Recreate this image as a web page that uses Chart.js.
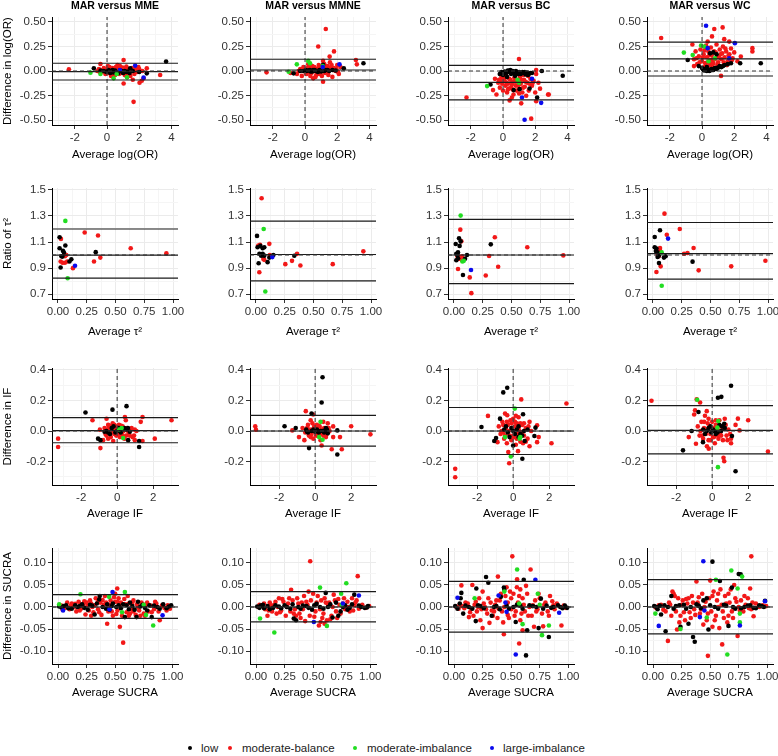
<!DOCTYPE html>
<html>
<head>
<meta charset="utf-8">
<title>MAR versus other methods</title>
<script src="https://cdn.jsdelivr.net/npm/chart.js@4.4.0/dist/chart.umd.min.js"></script>
<style>
  body { margin: 0; width: 778px; height: 756px; overflow: hidden; position: relative; background: #fff;
         font-family: "Liberation Sans", Arial, sans-serif; }
  canvas { position: absolute; }
  .lg-dot { position: absolute; width: 4px; height: 4px; border-radius: 50%; top: 746px; }
  .lg-txt { position: absolute; top: 741px; font-size: 11.5px; line-height: 14px; color: #222; white-space: nowrap; }
</style>
</head>
<body>
<div id="legend"></div>
<script>
// ---- labels ----
const comparisons = ['MME', 'MMNE', 'BC', 'WC'];
const groups = ['low', 'moderate-balance', 'moderate-imbalance', 'large-imbalance'];
const groupColors = ['#000000', '#f21818', '#22dd22', '#0a0aee'];

// ---- tick labels ----
const xTicks_logOR = [-2, 0, 2, 4];
const yTicks_logOR = [-0.5, -0.25, 0, 0.25, 0.5];
const xTicks_tau2 = [0, 0.25, 0.5, 0.75, 1];
const yTicks_tau2 = [0.7, 0.9, 1.1, 1.3, 1.5];
const xTicks_IF = [-2, 0, 2];
const yTicks_IF = [-0.2, 0, 0.2, 0.4];
const xTicks_SUCRA = [0, 0.25, 0.5, 0.75, 1];
const yTicks_SUCRA = [-0.1, -0.05, 0, 0.05, 0.1];

// ---- limits of agreement: [upper, mean, lower] per comparison ----
const limits_logOR = [[0.079, -0.007, -0.092], [0.12, 0.01, -0.092], [0.058, -0.116, -0.295], [0.295, 0.123, -0.051]];
const limits_tau2 = [[1.2, 0.999, 0.822], [1.26, 1.004, 0.802], [1.274, 1.0, 0.78], [1.25, 1.01, 0.815]];
const limits_IF = [[0.088, 0.003, -0.077], [0.103, 0.0, -0.099], [0.154, 0.0, -0.154], [0.167, 0.004, -0.15]];
const limits_SUCRA = [[0.028, 0, -0.026], [0.035, 0, -0.034], [0.058, 0, -0.057], [0.062, 0, -0.061]];

// ---- log(OR) ----
const logOR_MME_low = [[-0.82,0.027],[-0.2,0.0],[-0.05,-0.01],[0.1,0.01],[0.3,0.0],[0.4,-0.015],[0.5,0.005],[0.7,-0.02],[0.9,0.0],[1.2,-0.01],[1.44,0.027],[1.4,-0.02],[2.47,-0.024],[3.67,0.096],[0.6,-0.02],[0.2,-0.02],[1.0,-0.02],[-0.4,0.005],[0.0,-0.005],[0.15,0.0],[0.35,0.01],[0.55,-0.01],[0.8,0.005],[1.1,0.0],[1.3,-0.005],[1.6,0.0],[2.0,-0.01]];
const logOR_MME_modBal = [[-2.37,0.017],[-0.5,0.02],[-0.41,0.072],[-0.3,-0.01],[-0.2,0.03],[-0.1,-0.03],[0.0,0.02],[0.1,-0.02],[0.15,0.04],[0.2,0.0],[0.3,-0.03],[0.35,0.03],[0.45,0.01],[0.5,-0.04],[0.55,0.04],[0.6,-0.01],[0.7,0.02],[0.75,-0.03],[0.8,0.05],[0.85,0.0],[0.9,-0.02],[1.0,0.03],[1.03,0.113],[1.03,-0.127],[1.1,-0.04],[1.15,0.01],[1.2,0.045],[1.3,-0.02],[1.35,0.02],[1.45,-0.05],[1.5,0.0],[1.6,-0.09],[1.65,0.02],[1.65,-0.315],[1.7,-0.03],[1.8,0.03],[1.9,-0.01],[2.0,0.02],[2.02,-0.12],[2.16,-0.1],[2.27,-0.075],[2.2,0.0],[2.47,0.027],[3.3,-0.041],[0.25,-0.05],[0.65,0.06],[1.25,-0.06],[-0.6,0.0],[0.05,0.05],[0.95,0.035],[-0.45,-0.01],[-0.25,0.01],[-0.05,0.0],[0.08,0.01],[0.18,-0.01],[0.28,0.015],[0.38,-0.02],[0.48,0.02],[0.58,0.0],[0.68,-0.01],[0.78,0.01],[0.88,0.02],[0.98,-0.01],[1.08,0.02],[1.18,-0.02],[1.28,0.01],[1.38,-0.03],[1.55,0.03],[1.75,0.0],[1.95,0.04]];
const logOR_MME_modImb = [[-1.03,-0.017],[-0.41,-0.03],[0.41,-0.075],[1.24,-0.065],[0.6,-0.03]];
const logOR_MME_large = [[1.75,0.055],[2.27,-0.068],[0.8,0.01]];

const logOR_MMNE_low = [[-0.71,-0.024],[-0.1,0.0],[0.05,0.01],[0.2,0.005],[0.35,-0.005],[0.5,0.01],[0.65,0.0],[0.8,-0.01],[0.95,0.005],[1.12,0.062],[1.3,0.01],[1.5,0.0],[1.7,0.01],[2.41,0.027],[3.63,0.079],[1.0,-0.005],[-0.3,0.0],[0.1,0.0],[0.3,0.01],[0.45,-0.005],[0.6,0.01],[0.75,0.0],[0.9,0.01],[1.2,0.0],[1.4,0.01],[1.9,0.005]];
const logOR_MMNE_modBal = [[-2.39,-0.014],[-0.9,-0.02],[-0.5,-0.03],[-0.3,0.02],[-0.2,-0.05],[0.0,0.01],[0.1,-0.03],[0.15,0.03],[0.25,0.0],[0.3,0.04],[0.4,-0.02],[0.45,0.05],[0.51,-0.075],[0.55,0.01],[0.6,0.03],[0.7,-0.04],[0.75,0.02],[0.82,0.25],[0.85,0.06],[0.9,-0.03],[1.0,0.04],[1.05,-0.05],[1.12,0.103],[1.12,-0.11],[1.2,0.07],[1.25,-0.02],[1.29,0.428],[1.3,0.03],[1.4,0.05],[1.45,-0.04],[1.53,0.147],[1.55,0.09],[1.6,0.02],[1.7,-0.06],[1.8,0.2],[1.8,0.03],[1.9,0.0],[2.0,0.06],[2.1,-0.03],[2.2,0.04],[3.16,0.113],[3.22,0.068],[0.2,0.07],[0.65,-0.06],[1.15,0.0],[1.65,0.06],[0.95,0.02],[-0.1,0.04],[-0.4,0.0],[-0.15,0.02],[0.05,-0.02],[0.18,0.01],[0.28,-0.01],[0.38,0.02],[0.48,0.0],[0.58,0.04],[0.68,0.01],[0.78,-0.02],[0.88,0.03],[0.98,-0.01],[1.08,0.02],[1.18,0.04],[1.35,0.0],[1.5,0.03],[1.75,0.01],[1.95,0.02],[2.05,-0.01],[0.33,-0.05]];
const logOR_MMNE_modImb = [[-1.02,-0.007],[-0.51,0.068],[0.2,0.103],[0.31,0.079],[1.1,0.05]];
const logOR_MMNE_large = [[2.14,0.068],[1.1,0.04]];

const logOR_BC_low = [[-0.78,-0.137],[-0.2,-0.03],[-0.1,-0.01],[0.0,-0.04],[0.1,-0.005],[0.2,-0.02],[0.3,0.005],[0.4,-0.01],[0.45,0.01],[0.5,-0.03],[0.6,0.0],[0.7,-0.015],[0.8,0.0],[0.9,-0.02],[1.0,-0.01],[1.1,-0.03],[1.2,-0.01],[1.3,-0.02],[1.4,-0.035],[1.5,-0.015],[1.6,-0.03],[1.8,-0.02],[0.66,-0.195],[1.03,-0.185],[1.65,-0.178],[2.12,-0.27],[2.41,0.0],[3.71,-0.048],[0.25,-0.06],[0.75,-0.05],[0.05,-0.02],[0.15,-0.01],[0.35,-0.005],[0.55,-0.01],[0.65,-0.02],[0.85,-0.01],[0.95,-0.03],[1.15,-0.02],[1.35,-0.01],[1.55,-0.04],[1.7,-0.02]];
const logOR_BC_modBal = [[-2.27,-0.27],[-0.62,-0.195],[-0.5,-0.08],[-0.41,-0.24],[-0.3,-0.12],[-0.2,-0.17],[-0.1,-0.06],[0.0,-0.2],[0.1,-0.1],[0.15,-0.15],[0.2,-0.05],[0.25,-0.22],[0.3,-0.13],[0.41,-0.3],[0.45,-0.09],[0.5,-0.17],[0.6,-0.11],[0.65,-0.24],[0.7,-0.07],[0.8,-0.15],[0.85,-0.2],[0.9,-0.1],[0.99,0.123],[1.0,-0.18],[1.05,-0.06],[1.1,-0.13],[1.13,-0.33],[1.2,-0.22],[1.3,-0.09],[1.35,-0.16],[1.44,-0.253],[1.5,-0.12],[1.6,-0.2],[1.7,-0.08],[1.75,-0.486],[1.8,-0.15],[1.9,-0.1],[2.0,-0.22],[2.06,0.01],[2.06,-0.03],[2.06,-0.308],[2.2,-0.12],[2.3,-0.18],[2.8,-0.24],[2.84,-0.24],[0.55,-0.27],[1.25,-0.04],[-0.15,-0.1],[0.35,-0.18],[1.55,-0.05],[-0.25,-0.09],[-0.05,-0.13],[0.05,-0.07],[0.22,-0.12],[0.38,-0.08],[0.55,-0.14],[0.75,-0.11],[0.95,-0.14],[1.15,-0.09],[1.4,-0.11],[1.65,-0.13],[1.85,-0.12],[0.6,-0.19],[1.0,-0.23],[0.3,-0.19],[1.25,-0.17]];
const logOR_BC_modImb = [[-0.99,-0.154],[0.9,-0.09],[1.0,-0.12]];
const logOR_BC_large = [[1.18,-0.27],[1.34,-0.497],[2.37,-0.325],[1.8,-0.08]];

const logOR_WC_low = [[-0.89,0.113],[-0.2,0.05],[0.0,0.03],[0.1,0.01],[0.2,0.02],[0.3,0.0],[0.4,0.015],[0.5,0.005],[0.6,0.02],[0.7,0.01],[0.8,0.03],[0.9,0.02],[1.0,0.035],[1.1,0.05],[1.2,0.04],[1.4,0.06],[0.5,0.18],[0.7,0.19],[0.9,0.17],[1.8,0.079],[2.37,0.079],[3.65,0.079],[0.3,0.04],[1.6,0.07],[0.05,0.02],[0.15,0.005],[0.25,0.015],[0.35,0.01],[0.45,0.0],[0.55,0.015],[0.65,0.01],[0.75,0.02],[0.85,0.025],[0.95,0.03],[1.3,0.05]];
const logOR_WC_modBal = [[-2.54,0.336],[-0.6,0.27],[-0.5,0.12],[-0.4,0.2],[-0.3,0.07],[-0.2,0.15],[-0.1,0.22],[0.0,0.1],[0.1,0.17],[0.2,0.08],[0.25,0.26],[0.3,0.14],[0.4,0.2],[0.45,0.06],[0.5,0.11],[0.55,0.24],[0.62,0.353],[0.6,0.16],[0.7,0.08],[0.75,0.2],[0.76,0.428],[0.8,0.12],[0.9,0.27],[0.95,0.15],[1.0,0.09],[1.1,0.22],[1.15,0.17],[1.18,-0.05],[1.2,0.12],[1.28,0.445],[1.3,0.25],[1.38,0.325],[1.4,0.14],[1.5,0.2],[1.6,0.1],[1.69,0.3],[1.7,0.17],[1.8,0.23],[1.9,0.13],[2.0,0.19],[2.2,0.1],[2.41,0.147],[3.13,0.233],[3.13,0.2],[-0.5,0.05],[0.35,0.3],[0.65,0.05],[1.05,0.05],[1.55,0.06],[0.15,0.04],[-0.35,0.13],[-0.15,0.09],[0.05,0.14],[0.15,0.21],[0.35,0.09],[0.45,0.16],[0.65,0.12],[0.85,0.19],[1.05,0.14],[1.25,0.18],[1.45,0.23],[1.65,0.16],[1.85,0.11],[0.55,0.07],[0.95,0.06],[1.35,0.09]];
const logOR_WC_modImb = [[-1.13,0.188],[-0.58,0.164],[-0.06,0.26],[0.14,0.25],[0.4,0.1],[0.8,0.13]];
const logOR_WC_large = [[0.25,0.462],[0.35,0.233],[1.69,0.13],[2.04,0.284]];

// ---- ratio of tau^2 ----
const tau2_MME_low = [[0.014,1.137],[0.014,1.052],[0.064,1.073],[0.043,1.032],[0.052,1.019],[0.038,0.988],[0.023,0.904],[0.1,0.95],[0.116,0.968],[0.328,1.022],[0.03,0.99]];
const tau2_MME_modBal = [[0.026,1.124],[0.232,1.173],[0.348,1.15],[0.072,1.0],[0.023,0.95],[0.04,0.94],[0.06,0.94],[0.08,0.95],[0.13,0.899],[0.313,0.95],[0.368,0.98],[0.632,1.052],[0.942,1.014],[0.06,0.99]];
const tau2_MME_modImb = [[0.064,1.262],[0.084,0.822]];
const tau2_MME_large = [[0.148,0.917]];

const tau2_MMNE_low = [[0.009,1.147],[0.014,1.06],[0.038,1.07],[0.058,1.052],[0.072,1.06],[0.03,1.01],[0.045,0.995],[0.058,1.01],[0.072,0.995],[0.023,0.937],[0.101,0.945],[0.116,0.98],[0.151,1.0],[0.333,0.994]];
const tau2_MMNE_modBal = [[0.049,1.436],[0.02,1.073],[0.035,1.078],[0.116,1.086],[0.029,0.868],[0.064,0.97],[0.072,0.963],[0.255,0.93],[0.313,0.955],[0.357,1.009],[0.386,0.92],[0.667,0.93],[0.933,1.028],[0.12,1.0],[0.05,1.0]];
const tau2_MMNE_modImb = [[0.067,1.2],[0.081,0.72]];
const tau2_MMNE_large = [[0.142,0.984]];

const tau2_BC_low = [[0.015,1.085],[0.044,1.128],[0.058,1.105],[0.049,1.07],[0.02,1.01],[0.035,1.02],[0.02,0.96],[0.035,0.975],[0.078,0.846],[0.096,0.971],[0.113,1.0],[0.32,1.082],[0.03,1.0]];
const tau2_BC_modBal = [[0.055,1.195],[0.064,1.105],[0.03,0.99],[0.05,0.98],[0.07,0.99],[0.04,0.97],[0.035,0.893],[0.137,0.828],[0.151,0.707],[0.276,0.843],[0.305,0.992],[0.355,1.136],[0.384,0.91],[0.637,1.06],[0.95,0.997],[0.07,0.96]];
const tau2_BC_modImb = [[0.058,1.303],[0.073,0.95],[0.085,0.955]];
const tau2_BC_large = [[0.148,0.885]];

const tau2_WC_low = [[0.015,1.138],[0.061,1.19],[0.015,1.06],[0.03,1.05],[0.04,1.02],[0.05,0.995],[0.04,0.985],[0.052,0.938],[0.11,0.99],[0.095,0.98],[0.344,0.949],[0.025,1.03]];
const tau2_WC_modBal = [[0.1,1.318],[0.12,1.156],[0.233,1.2],[0.061,1.054],[0.061,1.036],[0.03,0.869],[0.067,0.913],[0.3,1.015],[0.27,1.01],[0.353,1.054],[0.397,0.882],[0.68,0.913],[0.977,0.956],[0.04,1.0],[0.05,0.99]];
const tau2_WC_modImb = [[0.076,1.02],[0.076,0.764]];
const tau2_WC_large = [[0.131,1.126]];

// ---- inconsistency factor ----
const IF_MME_low = [[-1.76,0.121],[-1.06,-0.05],[-0.93,-0.06],[-0.6,0.0],[-0.5,-0.01],[-0.26,0.14],[-0.2,0.03],[0.0,0.0],[0.2,-0.01],[0.4,0.02],[0.52,0.163],[0.5,0.01],[0.61,-0.06],[0.7,-0.005],[1.22,-0.105],[1.22,-0.066],[-0.4,-0.02],[-0.3,0.02],[-0.1,-0.01],[0.1,0.02],[0.3,0.01],[0.6,0.02],[-0.7,-0.005]];
const IF_MME_modBal = [[-3.28,-0.05],[-3.28,-0.105],[-1.37,0.07],[-0.96,0.009],[-0.93,-0.112],[-0.78,-0.06],[-0.7,0.02],[-0.6,-0.03],[-0.59,0.08],[-0.5,0.04],[-0.45,-0.01],[-0.4,0.03],[-0.35,-0.04],[-0.3,0.01],[-0.25,0.05],[-0.22,-0.066],[-0.15,-0.02],[-0.1,0.03],[-0.05,-0.03],[0.0,0.02],[0.05,-0.01],[0.1,0.04],[0.15,-0.04],[0.2,0.01],[0.25,-0.02],[0.3,0.03],[0.35,0.0],[0.43,0.092],[0.48,0.07],[0.5,-0.03],[0.55,0.02],[0.65,-0.02],[0.75,0.01],[0.85,-0.04],[0.94,-0.03],[0.98,-0.06],[0.98,0.009],[1.07,0.0],[1.31,0.06],[1.41,0.092],[1.41,-0.066],[2.09,-0.05],[3.02,0.07],[-0.5,-0.05],[0.4,-0.05],[-0.2,0.0],[0.15,0.015],[-0.55,0.01],[-0.45,0.03],[-0.35,0.02],[-0.25,-0.01],[-0.15,0.04],[-0.05,0.01],[0.05,0.03],[0.1,-0.02],[0.2,0.035],[0.3,-0.03],[0.4,0.01],[0.6,0.0],[0.7,-0.03],[0.8,0.02],[-0.65,-0.02]];
const IF_MME_modImb = [[0.33,-0.046],[0.1,0.01],[0.25,0.02]];
const IF_MME_large = [];

const IF_MMNE_low = [[-1.7,0.031],[-1.08,0.02],[-0.5,0.01],[-0.4,-0.01],[-0.34,-0.112],[-0.2,0.114],[-0.2,0.0],[0.0,-0.005],[0.1,0.01],[0.3,0.0],[0.36,0.187],[0.41,0.352],[0.5,-0.01],[0.6,0.02],[1.23,0.004],[1.23,-0.154],[0.55,0.005],[-0.45,-0.005],[-0.1,0.01],[0.2,-0.01],[0.4,0.0],[0.65,0.01],[0.7,-0.015]];
const IF_MMNE_modBal = [[-3.33,0.031],[-3.29,0.009],[-1.27,0.004],[-0.9,-0.04],[-0.7,0.02],[-0.6,-0.06],[-0.52,0.13],[-0.5,0.0],[-0.4,0.04],[-0.35,-0.03],[-0.3,0.01],[-0.2,-0.02],[-0.15,0.05],[-0.11,0.108],[-0.1,-0.05],[0.0,0.02],[0.05,-0.01],[0.1,0.04],[0.15,-0.03],[0.2,0.0],[0.25,0.03],[0.36,-0.095],[0.4,-0.02],[0.45,0.06],[0.5,0.02],[0.6,-0.04],[0.7,0.05],[0.8,0.0],[0.92,-0.12],[1.0,0.03],[1.0,-0.04],[1.38,-0.04],[1.48,-0.12],[2.0,0.031],[3.07,-0.022],[-0.25,0.07],[0.3,-0.06],[-0.55,-0.01],[-0.45,0.02],[-0.35,0.0],[-0.25,-0.04],[-0.15,0.01],[-0.05,0.03],[0.05,-0.03],[0.1,0.0],[0.2,0.03],[0.3,-0.02],[0.35,0.01],[0.45,-0.03],[0.55,0.0],[0.65,-0.02],[0.75,0.02]];
const IF_MMNE_modImb = [[0.3,0.06],[0.22,-0.04],[0.41,-0.057]];
const IF_MMNE_large = [];

const IF_BC_low = [[-1.76,0.026],[-1.05,-0.066],[-0.95,-0.046],[-0.73,0.081],[-0.55,0.253],[-0.33,0.284],[-0.5,0.01],[-0.3,-0.01],[-0.1,0.02],[0.0,-0.095],[0.0,0.0],[0.2,0.01],[0.4,-0.02],[0.51,-0.182],[0.55,0.11],[0.6,0.0],[0.64,-0.066],[1.18,-0.033],[1.24,0.022],[0.3,-0.04],[-0.4,0.03],[-0.2,-0.04],[0.1,-0.02],[0.3,0.03],[0.5,-0.03],[0.8,0.01]];
const IF_BC_modBal = [[-3.22,-0.248],[-3.22,-0.303],[-1.4,0.099],[-0.87,-0.073],[-0.8,0.03],[-0.7,-0.02],[-0.6,0.06],[-0.5,-0.05],[-0.45,0.114],[-0.4,0.02],[-0.35,-0.08],[-0.33,0.103],[-0.3,0.04],[-0.27,-0.138],[-0.22,-0.211],[-0.2,-0.03],[-0.15,0.07],[-0.1,-0.06],[-0.05,0.02],[0.0,0.08],[0.05,-0.04],[0.1,0.03],[0.15,-0.09],[0.2,0.05],[0.25,-0.02],[0.27,-0.132],[0.3,0.09],[0.35,0.0],[0.4,-0.07],[0.45,0.207],[0.5,0.04],[0.6,-0.03],[0.7,0.02],[0.8,-0.05],[0.91,-0.1],[0.91,0.06],[1.0,0.0],[1.33,-0.073],[1.33,0.037],[1.42,-0.04],[2.13,-0.08],[2.96,0.18],[-0.55,-0.01],[0.15,0.1],[0.55,-0.08],[-0.65,0.0],[-0.55,0.04],[-0.45,-0.03],[-0.35,0.06],[-0.25,0.0],[-0.1,0.05],[0.0,-0.03],[0.1,0.06],[0.2,-0.05],[0.3,0.02],[0.4,0.05],[0.5,-0.01],[0.6,0.05],[0.7,-0.07],[0.85,0.03]];
const IF_BC_modImb = [[0.09,0.147],[-0.13,-0.167],[0.36,-0.05],[-0.45,-0.04],[0.4,-0.04]];
const IF_BC_large = [];

const IF_WC_low = [[-1.62,-0.127],[-1.14,0.0],[-0.76,0.125],[-0.51,-0.073],[-0.5,0.01],[-0.3,0.0],[-0.2,0.02],[-0.05,-0.01],[0.1,0.0],[0.32,0.218],[0.51,0.224],[0.4,0.04],[0.55,0.03],[0.67,0.048],[1.05,0.297],[1.1,-0.033],[1.3,-0.264],[0.2,-0.02],[-0.4,-0.02],[-0.1,0.03],[0.05,0.01],[0.3,-0.01],[0.5,0.0],[0.7,0.02]];
const IF_WC_modBal = [[-3.37,0.198],[-1.3,-0.04],[-1.0,0.108],[-0.95,0.136],[-0.9,-0.084],[-0.86,0.207],[-0.8,0.03],[-0.67,0.187],[-0.7,-0.03],[-0.6,0.06],[-0.5,-0.05],[-0.45,0.02],[-0.4,0.1],[-0.35,-0.02],[-0.29,-0.1],[-0.25,0.05],[-0.2,-0.06],[-0.19,-0.116],[-0.15,0.03],[-0.1,-0.02],[0.0,0.06],[0.05,-0.04],[0.1,0.02],[0.15,-0.08],[0.2,0.04],[0.3,-0.03],[0.4,0.07],[0.45,-0.01],[0.5,0.03],[0.6,-0.06],[0.63,-0.176],[0.67,-0.198],[0.7,0.08],[0.8,-0.03],[0.9,0.01],[1.0,-0.02],[1.05,-0.08],[1.05,-0.05],[1.3,0.04],[1.43,0.081],[1.52,0.004],[2.0,0.07],[3.1,-0.134],[-0.3,0.13],[0.25,0.0],[-0.65,0.0],[-0.55,-0.03],[-0.45,0.06],[-0.3,0.01],[-0.2,0.08],[-0.1,-0.06],[0.0,0.0],[0.1,-0.04],[0.2,0.07],[0.3,0.01],[0.35,-0.05],[0.5,-0.03],[0.6,0.02],[0.75,0.04],[0.85,-0.06]];
const IF_WC_modImb = [[-0.83,0.205],[0.29,0.022],[0.34,0.066],[0.32,-0.237]];
const IF_WC_large = [];

// ---- SUCRA ----
const SUCRA_MME_low = [[0.01,0.001],[0.05,0.002],[0.09,-0.003],[0.15,0.004],[0.19,0.002],[0.23,-0.002],[0.28,0.005],[0.32,-0.017],[0.34,0.008],[0.36,0.017],[0.365,0.025],[0.39,0.0],[0.42,-0.004],[0.47,0.002],[0.51,0.0],[0.55,-0.003],[0.585,-0.023],[0.6,0.004],[0.63,0.01],[0.65,0.002],[0.687,-0.023],[0.72,0.001],[0.76,-0.002],[0.8,0.004],[0.82,-0.023],[0.87,0.0],[0.92,0.006],[0.95,-0.003],[0.99,0.004],[0.7,0.012],[0.48,0.008],[0.03,-0.001],[0.07,0.004],[0.12,-0.004],[0.17,0.0],[0.21,0.006],[0.26,-0.006],[0.3,0.003],[0.43,0.006],[0.45,-0.006],[0.53,0.004],[0.57,0.006],[0.67,-0.006],[0.74,0.005],[0.78,-0.008],[0.84,0.003],[0.89,-0.004],[0.97,0.001],[0.62,-0.005]];
const SUCRA_MME_modBal = [[0.03,0.003],[0.06,-0.002],[0.08,0.01],[0.1,-0.005],[0.12,0.008],[0.14,0.0],[0.16,-0.01],[0.18,0.012],[0.2,-0.004],[0.22,0.006],[0.24,-0.017],[0.25,0.01],[0.27,-0.008],[0.28,0.015],[0.3,0.0],[0.31,-0.012],[0.33,0.02],[0.35,-0.005],[0.37,0.01],[0.38,-0.018],[0.4,0.005],[0.41,0.025],[0.43,-0.038],[0.44,-0.01],[0.46,0.015],[0.48,-0.02],[0.5,0.03],[0.518,0.042],[0.52,-0.008],[0.53,0.02],[0.541,-0.045],[0.55,0.01],[0.56,-0.02],[0.57,-0.081],[0.58,0.018],[0.6,-0.012],[0.62,0.008],[0.64,-0.005],[0.66,0.015],[0.68,-0.018],[0.7,0.0],[0.71,-0.008],[0.73,0.01],[0.75,-0.015],[0.77,0.005],[0.79,-0.01],[0.81,0.003],[0.84,-0.005],[0.86,0.008],[0.89,-0.03],[0.93,-0.002],[0.96,0.004],[0.98,-0.004],[0.45,0.005],[0.35,0.012],[0.62,-0.02],[0.52,0.012],[0.2,0.005],[0.66,-0.01],[0.29,-0.02],[0.04,-0.006],[0.11,0.003],[0.15,0.007],[0.19,-0.008],[0.23,0.013],[0.26,0.004],[0.29,0.008],[0.32,0.004],[0.36,-0.012],[0.39,0.016],[0.42,0.01],[0.47,-0.01],[0.49,0.022],[0.51,-0.016],[0.54,0.006],[0.59,0.006],[0.61,0.025],[0.63,-0.015],[0.65,0.01],[0.69,0.006],[0.72,-0.02],[0.74,0.006],[0.76,-0.02],[0.78,0.01],[0.82,-0.012],[0.85,0.012],[0.88,-0.01],[0.91,0.004],[0.95,-0.008],[0.5,0.012]];
const SUCRA_MME_modImb = [[0.01,0.006],[0.196,0.029],[0.447,0.023],[0.585,0.034],[0.833,-0.042],[0.75,0.005],[0.77,-0.018],[0.56,-0.012]];
const SUCRA_MME_large = [[0.044,-0.008],[0.477,0.034],[0.915,-0.019],[0.45,-0.005]];

const SUCRA_MMNE_low = [[0.01,0.001],[0.04,0.003],[0.07,-0.003],[0.1,0.002],[0.15,-0.002],[0.2,0.001],[0.25,0.004],[0.3,-0.004],[0.33,-0.026],[0.35,-0.03],[0.37,0.0],[0.41,0.003],[0.46,-0.002],[0.51,0.004],[0.56,0.0],[0.61,0.032],[0.65,0.006],[0.67,-0.024],[0.7,0.01],[0.74,-0.01],[0.78,0.004],[0.82,-0.002],[0.86,0.028],[0.92,0.0],[0.95,-0.002],[0.98,0.002],[0.72,-0.02],[0.03,-0.002],[0.06,0.005],[0.12,-0.005],[0.17,0.004],[0.22,-0.003],[0.27,0.0],[0.32,0.006],[0.39,-0.004],[0.44,0.002],[0.49,-0.006],[0.53,0.007],[0.59,-0.004],[0.63,0.0],[0.76,0.0],[0.8,-0.006],[0.84,0.006],[0.9,0.003],[0.97,-0.001]];
const SUCRA_MMNE_modBal = [[0.02,0.0],[0.05,0.003],[0.08,-0.005],[0.1,-0.02],[0.12,0.01],[0.14,-0.01],[0.16,0.005],[0.18,-0.015],[0.2,0.02],[0.22,-0.008],[0.24,0.012],[0.26,-0.02],[0.28,0.008],[0.3,-0.01],[0.307,0.039],[0.32,0.015],[0.34,-0.005],[0.36,0.02],[0.38,-0.015],[0.4,0.01],[0.42,0.025],[0.43,-0.032],[0.45,0.005],[0.47,-0.02],[0.474,0.104],[0.5,0.03],[0.52,-0.01],[0.54,0.025],[0.55,-0.042],[0.565,-0.034],[0.57,0.015],[0.58,-0.025],[0.6,0.02],[0.62,-0.03],[0.64,0.01],[0.66,-0.02],[0.68,0.028],[0.7,-0.01],[0.72,0.018],[0.74,-0.015],[0.76,0.008],[0.78,-0.005],[0.8,0.012],[0.82,-0.01],[0.84,0.02],[0.86,0.004],[0.88,0.015],[0.89,0.07],[0.9,-0.004],[0.93,0.005],[0.96,-0.002],[0.99,0.002],[0.46,0.035],[0.6,-0.038],[0.35,-0.02],[0.63,0.005],[0.03,0.005],[0.07,0.008],[0.11,-0.008],[0.13,0.004],[0.17,0.012],[0.19,0.0],[0.21,-0.012],[0.23,0.018],[0.27,0.0],[0.29,0.02],[0.33,-0.015],[0.37,0.008],[0.39,-0.025],[0.41,-0.005],[0.44,0.012],[0.48,0.015],[0.51,-0.022],[0.53,0.01],[0.56,-0.005],[0.59,-0.015],[0.61,0.01],[0.65,-0.028],[0.67,0.0],[0.69,0.015],[0.71,-0.025],[0.73,0.005],[0.77,0.02],[0.81,0.0],[0.85,-0.008],[0.87,0.01]];
const SUCRA_MMNE_modImb = [[0.035,-0.026],[0.16,-0.058],[0.56,0.044],[0.62,-0.043],[0.745,0.03],[0.79,0.054],[0.75,0.005]];
const SUCRA_MMNE_large = [[0.506,-0.034],[0.9,0.026],[0.76,0.008]];

const SUCRA_BC_low = [[0.01,0.002],[0.058,0.02],[0.064,0.032],[0.08,-0.015],[0.1,0.003],[0.19,-0.032],[0.195,0.042],[0.23,0.002],[0.28,0.068],[0.3,0.055],[0.33,-0.02],[0.37,0.002],[0.41,0.023],[0.436,0.044],[0.44,0.039],[0.48,-0.004],[0.54,-0.034],[0.58,0.003],[0.61,0.062],[0.63,-0.11],[0.64,-0.053],[0.69,0.002],[0.74,-0.048],[0.76,0.019],[0.83,-0.068],[0.87,0.0],[0.91,0.004],[0.95,-0.003],[0.99,-0.002],[0.55,0.005],[0.03,-0.004],[0.05,0.008],[0.13,0.0],[0.16,-0.004],[0.21,0.004],[0.26,-0.003],[0.35,0.0],[0.4,-0.005],[0.46,0.003],[0.52,0.0],[0.6,-0.004],[0.66,0.004],[0.72,0.0],[0.78,-0.004],[0.81,0.003],[0.85,-0.002],[0.93,0.0],[0.97,0.003]];
const SUCRA_BC_modBal = [[0.02,0.0],[0.05,0.006],[0.064,0.049],[0.09,-0.003],[0.12,0.008],[0.13,-0.023],[0.15,-0.004],[0.16,0.05],[0.18,0.005],[0.2,-0.01],[0.22,0.02],[0.24,-0.005],[0.25,0.035],[0.25,-0.048],[0.27,0.0],[0.29,-0.015],[0.31,-0.036],[0.32,0.01],[0.34,-0.02],[0.36,0.005],[0.384,0.069],[0.38,-0.025],[0.4,0.015],[0.42,-0.01],[0.436,-0.062],[0.45,0.025],[0.47,-0.018],[0.49,0.035],[0.5,-0.005],[0.51,0.115],[0.52,0.03],[0.53,-0.02],[0.55,0.045],[0.552,0.063],[0.56,0.01],[0.57,-0.083],[0.58,0.04],[0.6,-0.053],[0.6,0.02],[0.62,-0.01],[0.64,0.03],[0.67,0.085],[0.66,0.0],[0.68,-0.02],[0.7,-0.045],[0.71,0.015],[0.73,-0.005],[0.75,0.02],[0.78,-0.044],[0.8,0.01],[0.82,-0.01],[0.84,0.025],[0.86,0.013],[0.88,-0.005],[0.9,0.008],[0.94,-0.042],[0.96,0.003],[0.98,-0.002],[0.35,-0.01],[0.44,0.0],[0.58,-0.03],[0.63,0.048],[0.47,0.01],[0.3,0.02],[0.04,-0.004],[0.07,0.002],[0.1,0.01],[0.14,-0.012],[0.17,-0.02],[0.19,0.012],[0.21,0.0],[0.23,-0.03],[0.26,0.008],[0.28,-0.005],[0.33,-0.008],[0.37,0.015],[0.39,-0.004],[0.41,0.03],[0.43,-0.035],[0.46,0.045],[0.48,-0.025],[0.5,0.02],[0.54,-0.01],[0.57,0.025],[0.59,-0.015],[0.61,0.005],[0.65,-0.02],[0.69,0.004],[0.72,-0.01],[0.74,0.03],[0.77,-0.015],[0.79,0.005],[0.83,-0.02],[0.87,0.004]];
const SUCRA_BC_modImb = [[0.18,0.02],[0.44,0.035],[0.552,0.085],[0.6,-0.039],[0.733,0.03],[0.75,0.005],[0.77,-0.064],[0.83,-0.042],[0.57,0.008]];
const SUCRA_BC_large = [[0.03,0.021],[0.39,0.026],[0.46,-0.011],[0.54,-0.108],[0.712,0.062],[0.92,-0.013],[0.45,0.01]];

const SUCRA_WC_low = [[0.01,0.002],[0.04,-0.005],[0.07,-0.017],[0.1,0.004],[0.11,-0.055],[0.16,0.025],[0.2,0.002],[0.24,-0.045],[0.27,0.005],[0.31,-0.038],[0.35,-0.068],[0.365,-0.079],[0.4,0.003],[0.44,0.015],[0.485,-0.051],[0.52,0.103],[0.54,0.0],[0.585,0.059],[0.62,0.005],[0.66,-0.043],[0.69,0.044],[0.72,-0.004],[0.75,0.075],[0.767,0.074],[0.8,0.0],[0.85,0.004],[0.9,-0.003],[0.95,0.002],[0.98,0.014],[0.47,0.02],[0.03,0.0],[0.06,0.003],[0.13,0.0],[0.18,-0.004],[0.23,0.004],[0.29,-0.004],[0.33,0.0],[0.38,0.006],[0.42,-0.003],[0.5,0.004],[0.57,-0.004],[0.64,0.003],[0.7,0.0],[0.77,-0.003],[0.83,0.003],[0.88,-0.002],[0.93,0.004],[0.97,0.0]];
const SUCRA_WC_modBal = [[0.02,0.0],[0.05,0.004],[0.09,-0.006],[0.13,-0.077],[0.14,0.01],[0.17,0.035],[0.18,0.03],[0.2,-0.01],[0.21,-0.051],[0.22,0.02],[0.24,-0.02],[0.26,0.015],[0.28,-0.03],[0.3,0.008],[0.32,-0.012],[0.34,0.025],[0.36,-0.005],[0.38,0.058],[0.39,0.01],[0.41,-0.015],[0.43,0.03],[0.45,0.0],[0.47,-0.03],[0.48,-0.111],[0.49,0.02],[0.5,0.06],[0.51,-0.01],[0.53,0.035],[0.55,-0.02],[0.56,0.015],[0.58,-0.048],[0.59,0.04],[0.6,0.005],[0.605,-0.085],[0.62,-0.025],[0.63,0.025],[0.65,-0.035],[0.67,0.01],[0.69,-0.01],[0.71,0.05],[0.72,0.02],[0.74,-0.066],[0.75,0.0],[0.77,0.015],[0.79,-0.01],[0.81,0.005],[0.83,0.02],[0.85,0.042],[0.86,0.115],[0.86,-0.005],[0.88,-0.021],[0.9,0.008],[0.93,0.0],[0.96,0.004],[0.99,0.002],[0.31,0.02],[0.44,-0.04],[0.57,0.0],[0.66,0.03],[0.52,-0.045],[0.03,-0.003],[0.07,0.005],[0.11,-0.01],[0.15,0.005],[0.16,-0.02],[0.19,0.025],[0.23,-0.035],[0.25,0.005],[0.27,-0.012],[0.29,0.018],[0.33,-0.025],[0.35,0.01],[0.37,-0.018],[0.4,0.022],[0.42,-0.005],[0.46,0.012],[0.48,-0.015],[0.52,0.025],[0.54,-0.03],[0.57,0.03],[0.61,-0.01],[0.64,0.008],[0.66,-0.02],[0.68,0.04],[0.7,-0.025],[0.73,0.012],[0.76,-0.008],[0.8,0.025],[0.84,-0.003],[0.87,0.01]];
const SUCRA_WC_modImb = [[0.02,-0.015],[0.24,-0.05],[0.47,-0.024],[0.55,0.062],[0.65,-0.108],[0.685,0.083],[0.74,0.042],[0.76,-0.035],[0.76,-0.015],[0.78,0.069]];
const SUCRA_WC_large = [[0.05,-0.043],[0.41,-0.023],[0.44,0.104],[0.45,-0.008],[0.76,-0.042],[0.98,0.013]];

// gather per row / column (order: low, moderate-balance, moderate-imbalance, large-imbalance)
const rowData = [
  [[logOR_MME_low, logOR_MME_modBal, logOR_MME_modImb, logOR_MME_large],
   [logOR_MMNE_low, logOR_MMNE_modBal, logOR_MMNE_modImb, logOR_MMNE_large],
   [logOR_BC_low, logOR_BC_modBal, logOR_BC_modImb, logOR_BC_large],
   [logOR_WC_low, logOR_WC_modBal, logOR_WC_modImb, logOR_WC_large]],
  [[tau2_MME_low, tau2_MME_modBal, tau2_MME_modImb, tau2_MME_large],
   [tau2_MMNE_low, tau2_MMNE_modBal, tau2_MMNE_modImb, tau2_MMNE_large],
   [tau2_BC_low, tau2_BC_modBal, tau2_BC_modImb, tau2_BC_large],
   [tau2_WC_low, tau2_WC_modBal, tau2_WC_modImb, tau2_WC_large]],
  [[IF_MME_low, IF_MME_modBal, IF_MME_modImb, IF_MME_large],
   [IF_MMNE_low, IF_MMNE_modBal, IF_MMNE_modImb, IF_MMNE_large],
   [IF_BC_low, IF_BC_modBal, IF_BC_modImb, IF_BC_large],
   [IF_WC_low, IF_WC_modBal, IF_WC_modImb, IF_WC_large]],
  [[SUCRA_MME_low, SUCRA_MME_modBal, SUCRA_MME_modImb, SUCRA_MME_large],
   [SUCRA_MMNE_low, SUCRA_MMNE_modBal, SUCRA_MMNE_modImb, SUCRA_MMNE_large],
   [SUCRA_BC_low, SUCRA_BC_modBal, SUCRA_BC_modImb, SUCRA_BC_large],
   [SUCRA_WC_low, SUCRA_WC_modBal, SUCRA_WC_modImb, SUCRA_WC_large]]
];

// axis setup for each row
const rows = [
  { xTitle: 'Average log(OR)', yTitle: 'Difference in log(OR)', limits: limits_logOR, refY: 0, refX: 0,
    xMin: -3.42, xMax: 4.41, yMin: -0.551, yMax: 0.551,
    xMajor: xTicks_logOR, xMinor: [-3, -1, 1, 3], xDec: 0,
    yMajor: yTicks_logOR, yMinor: [-0.375, -0.125, 0.125, 0.375], yDec: 2,
    top: 17, h: 108, xh: 37, padTop: 17 },
  { xTitle: 'Average \u03c4\u00b2', yTitle: 'Ratio of \u03c4\u00b2', limits: limits_tau2, refY: 1, refX: null,
    xMin: -0.052, xMax: 1.043, yMin: 0.662, yMax: 1.515,
    xMajor: xTicks_tau2, xMinor: [0.125, 0.375, 0.625, 0.875], xDec: 2,
    yMajor: yTicks_tau2, yMinor: [0.8, 1.0, 1.2, 1.4], yDec: 1,
    top: 188, h: 111, xh: 40, padTop: 13 },
  { xTitle: 'Average IF', yTitle: 'Difference in IF', limits: limits_IF, refY: 0, refX: 0,
    xMin: -3.62, xMax: 3.38, yMin: -0.354, yMax: 0.413,
    xMajor: xTicks_IF, xMinor: [-3, -1, 1, 3], xDec: 0,
    yMajor: yTicks_IF, yMinor: [-0.3, -0.1, 0.1, 0.3], yDec: 1,
    top: 368, h: 117, xh: 36, padTop: 13 },
  { xTitle: 'Average SUCRA', yTitle: 'Difference in SUCRA', limits: limits_SUCRA, refY: 0, refX: null,
    xMin: -0.053, xMax: 1.05, yMin: -0.1295, yMax: 0.134,
    xMajor: xTicks_SUCRA, xMinor: [0.125, 0.375, 0.625, 0.875], xDec: 2,
    yMajor: yTicks_SUCRA, yMinor: [-0.125, -0.075, -0.025, 0.025, 0.075, 0.125], yDec: 2,
    top: 548, h: 116, xh: 36, padTop: 13 }
];

const colLeft = [52, 250, 448, 647];
const plotW = 126;
const FONT = '"Liberation Sans", Arial, sans-serif';
Chart.defaults.font.family = FONT;

// small plugin: bold panel title centred on the plotting area
const panelTitle = {
  id: 'panelTitle',
  afterDraw(chart, args, opts) {
    if (!opts.text) return;
    const ctx = chart.ctx, a = chart.chartArea;
    ctx.save();
    ctx.font = 'bold 10.5px ' + FONT;
    ctx.fillStyle = '#000';
    ctx.textAlign = 'center';
    ctx.textBaseline = 'middle';
    ctx.fillText(opts.text, (a.left + a.right) / 2, opts.y);
    ctx.restore();
  }
};

function makeAxis(min, max, major, minor, dec, size, isX, title) {
  const isMajor = v => major.some(m => Math.abs(m - v) < 1e-9);
  const all = major.concat(minor).filter(v => v >= min && v <= max).sort((a, b) => a - b);
  return {
    type: 'linear',
    min: min,
    max: max,
    afterBuildTicks: s => { s.ticks = all.map(v => ({ value: v })); },
    afterFit: s => { if (isX) s.height = size; else s.width = size; },
    ticks: {
      autoSkip: false, maxRotation: 0, padding: 2, color: '#333',
      font: { size: 11.5 },
      callback: v => isMajor(v) ? v.toFixed(dec) : ''
    },
    grid: {
      color: c => (c.tick && isMajor(c.tick.value)) ? '#ebebeb' : '#f5f5f5',
      tickColor: c => (c.tick && isMajor(c.tick.value)) ? '#333' : 'rgba(0,0,0,0)',
      tickLength: 4,
      lineWidth: 1
    },
    border: { display: true, color: '#000', width: 1 },
    title: title ? { display: true, text: title, color: '#000', font: { size: 11.5 },
                     padding: { top: 1, bottom: 0 } } : { display: false }
  };
}

function hline(y, x0, x1, dashed) {
  return { data: [{ x: x0, y: y }, { x: x1, y: y }], showLine: true, pointRadius: 0,
           borderColor: dashed ? '#333' : '#1a1a1a', borderWidth: dashed ? 1.1 : 1.2,
           borderDash: dashed ? [4, 3] : [], order: 0 };
}

rows.forEach((r, ri) => {
  comparisons.forEach((cmp, ci) => {
    const yW = ci === 0 ? 52 : 46;
    const padRight = 30;
    const canvas = document.createElement('canvas');
    const w = yW + plotW + padRight;
    const h = r.padTop + r.h + r.xh;
    canvas.width = w; canvas.height = h;
    canvas.style.left = (colLeft[ci] - yW) + 'px';
    canvas.style.top = (r.top - r.padTop) + 'px';
    canvas.style.width = w + 'px'; canvas.style.height = h + 'px';
    document.body.appendChild(canvas);

    const datasets = [];
    const pointOrder = [3, 4, 2, 1];   // red at the bottom, blue on top
    rowData[ri][ci].forEach((pts, gi) => {
      datasets.push({
        label: groups[gi],
        data: pts.map(p => ({ x: p[0], y: p[1] })),
        backgroundColor: groupColors[gi],
        borderWidth: 0,
        pointRadius: 2.3,
        order: pointOrder[gi]
      });
    });
    const lim = r.limits[ci];
    datasets.push(hline(r.refY, r.xMin, r.xMax, true));
    lim.forEach(v => datasets.push(hline(v, r.xMin, r.xMax, false)));
    if (r.refX !== null) {
      datasets.push({ data: [{ x: r.refX, y: r.yMin }, { x: r.refX, y: r.yMax }], showLine: true,
                      pointRadius: 0, borderColor: '#444', borderWidth: 1.1, borderDash: [4, 3], order: 0 });
    }

    new Chart(canvas.getContext('2d'), {
      type: 'scatter',
      data: { datasets: datasets },
      options: {
        responsive: false,
        animation: false,
        events: [],
        layout: { padding: { top: r.padTop, right: padRight, bottom: 0, left: 0 } },
        plugins: {
          legend: { display: false },
          tooltip: { enabled: false },
          panelTitle: { text: ri === 0 ? 'MAR versus ' + cmp : '', y: 6 }
        },
        scales: {
          x: makeAxis(r.xMin, r.xMax, r.xMajor, r.xMinor, r.xDec, r.xh, true, r.xTitle),
          y: makeAxis(r.yMin, r.yMax, r.yMajor, r.yMinor, r.yDec, yW, false, ci === 0 ? r.yTitle : null)
        }
      },
      plugins: [panelTitle]
    });
  });
});

// legend at the bottom
const legendX = [190, 230, 355, 492];
const legendTextX = [201, 242, 367, 503];
const lg = document.getElementById('legend');
groups.forEach((g, i) => {
  const d = document.createElement('div');
  d.className = 'lg-dot';
  d.style.left = (legendX[i] - 2) + 'px';
  d.style.background = groupColors[i];
  lg.appendChild(d);
  const t = document.createElement('div');
  t.className = 'lg-txt';
  t.style.left = legendTextX[i] + 'px';
  t.textContent = g;
  lg.appendChild(t);
});
</script>
</body>
</html>
